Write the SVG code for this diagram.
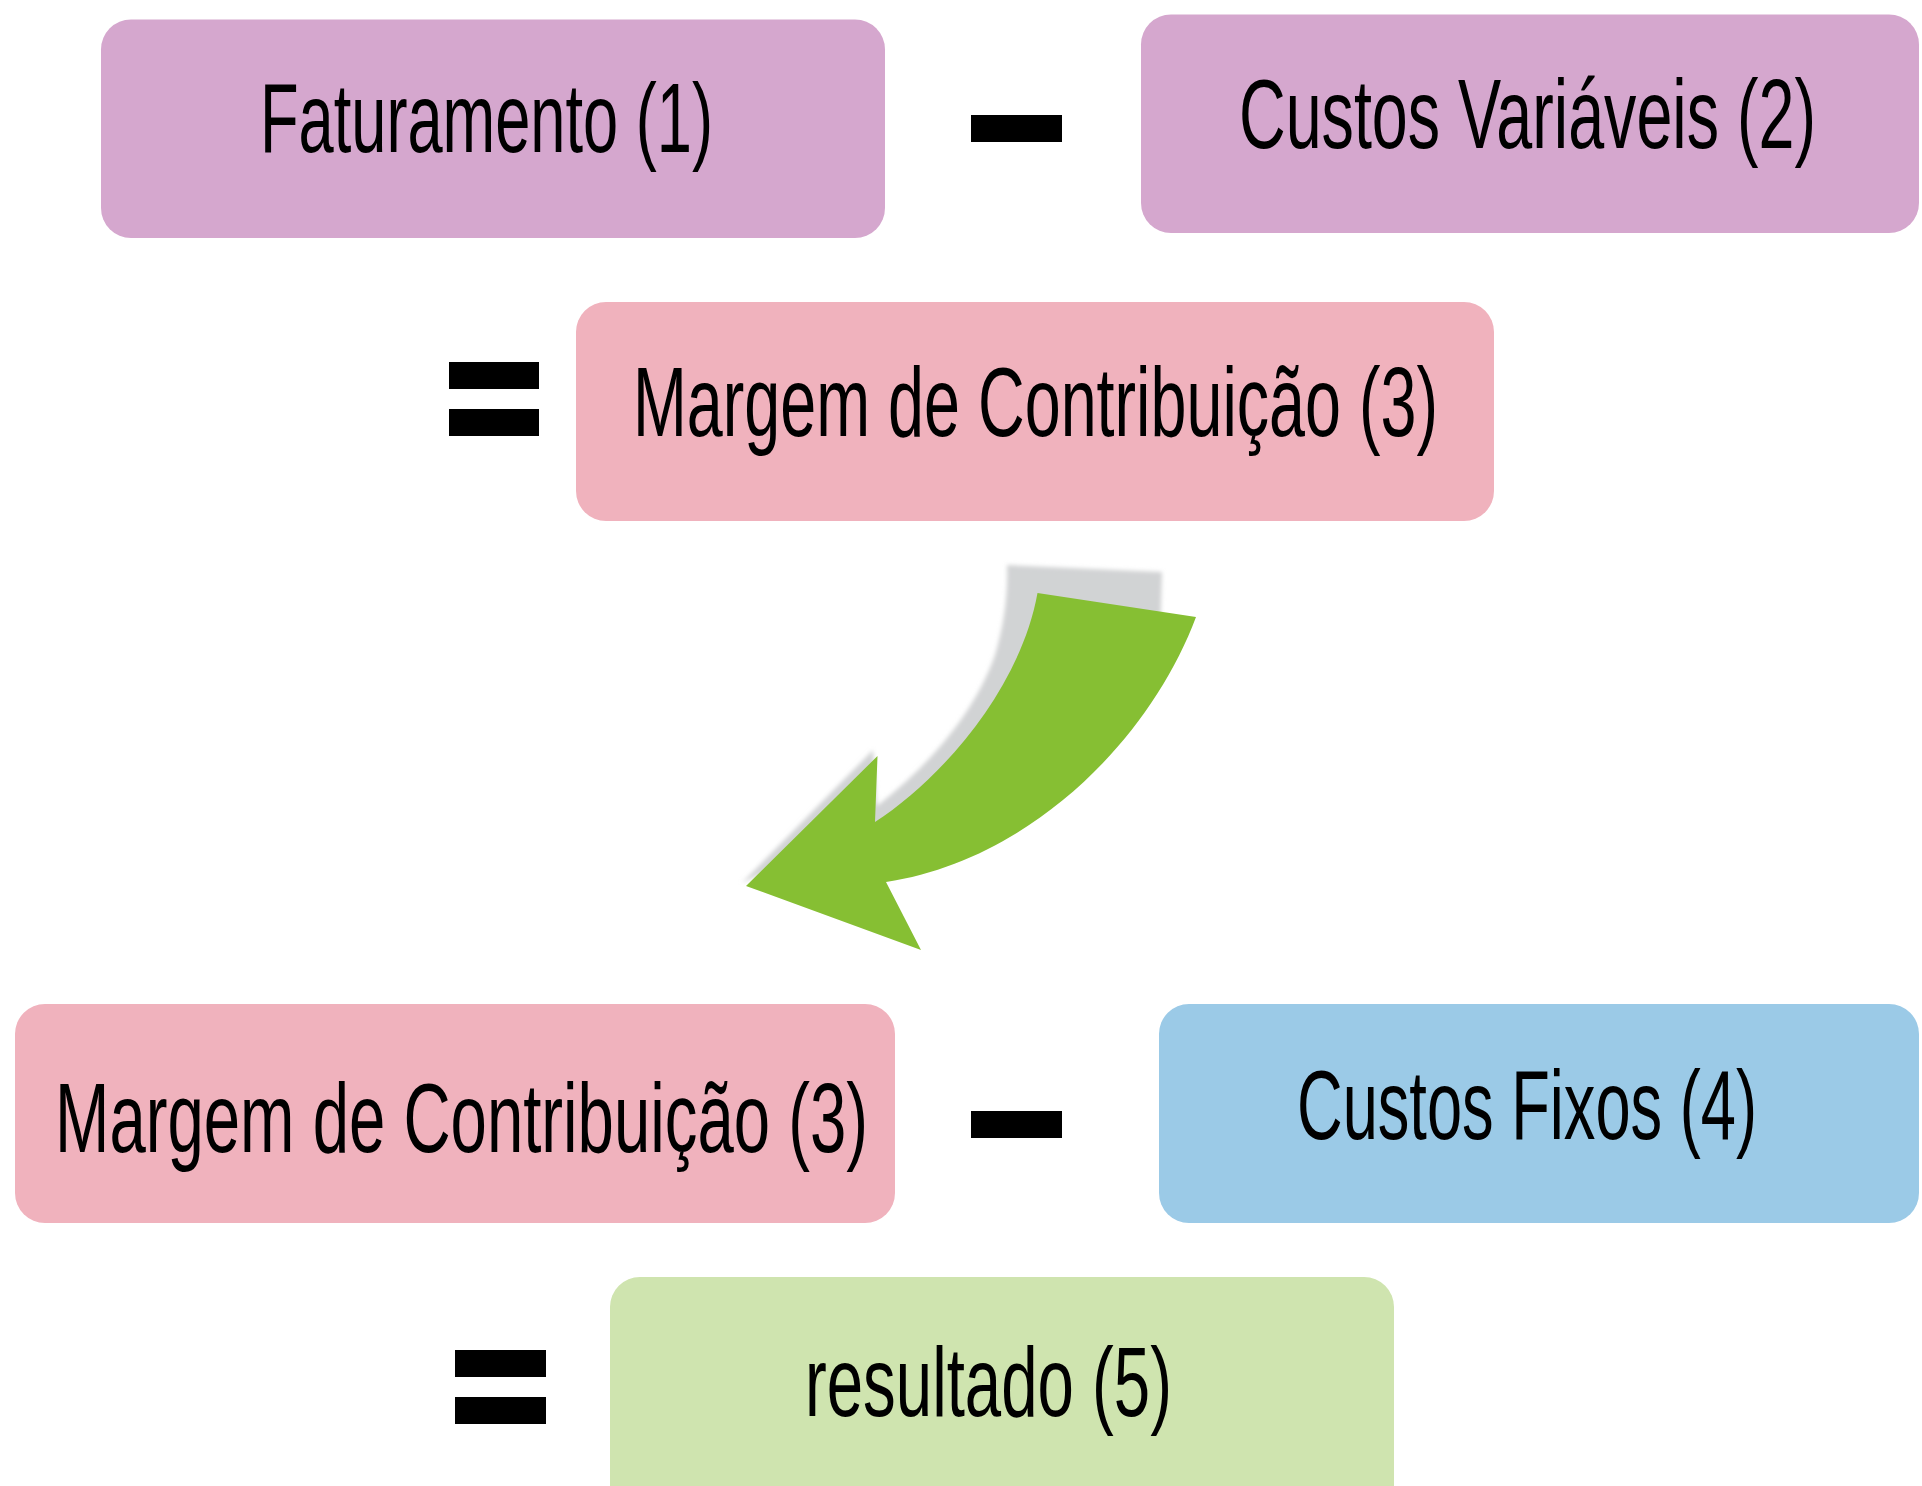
<svg xmlns="http://www.w3.org/2000/svg" width="1922" height="1486" viewBox="0 0 1922 1486">
<style>
.lbl{font-family:"Liberation Sans",Arial,sans-serif;font-size:98px;fill:#000;}
.op{fill:#000;}
</style>
<defs>
<filter id="blur" x="-10%" y="-10%" width="120%" height="120%"><feGaussianBlur stdDeviation="2"/></filter>
</defs>
<rect width="1922" height="1486" fill="#fff"/>
<g id="faturamento">
<rect x="101" y="19.5" width="784" height="218.5" rx="30" fill="#D5A7CE"/>
<text class="lbl" transform="translate(260,152) scale(0.62,1)" x="0" y="0" textLength="730.6" lengthAdjust="spacingAndGlyphs">Faturamento (1)</text>
</g>
<g id="minus1"><rect class="op" x="971" y="115" width="91" height="27"/></g>
<g id="custos-variaveis">
<rect x="1141" y="14.5" width="778" height="218.5" rx="30" fill="#D5A7CE"/>
<text class="lbl" transform="translate(1239,148) scale(0.62,1)" x="0" y="0" textLength="930.6" lengthAdjust="spacingAndGlyphs">Custos Variáveis (2)</text>
</g>
<g id="equals1"><rect class="op" x="449" y="362" width="90" height="27"/><rect class="op" x="449" y="409" width="90" height="27"/></g>
<g id="margem-top">
<rect x="576" y="302" width="918" height="219" rx="30" fill="#F0B2BD"/>
<text class="lbl" transform="translate(633,436) scale(0.62,1)" x="0" y="0" textLength="1298.4" lengthAdjust="spacingAndGlyphs">Margem de Contribuição (3)</text>
</g>
<g id="connectors">
<path d="M1007,565 L1162,572 L1160,640 L960,830 L880,840 L810,850 L742,883 L873,750 L877,806 C930,765 975,712 995,655 C1004,625 1008,595 1007,565 Z" fill="#D1D3D4" filter="url(#blur)"/>
<path d="M1037.5,593 L1196,617 C1150,740 1030,860 886,882 L921,950 L746,886 L877.5,756 L875,822 C940,780 1020,690 1037.5,593 Z" fill="#86BF33"/>
</g>
<g id="margem-bottom">
<rect x="15" y="1004" width="880" height="219" rx="30" fill="#F0B2BD"/>
<text class="lbl" transform="translate(55,1152) scale(0.62,1)" x="0" y="0" textLength="1311.3" lengthAdjust="spacingAndGlyphs">Margem de Contribuição (3)</text>
</g>
<g id="minus2"><rect class="op" x="971" y="1111" width="91" height="27"/></g>
<g id="custos-fixos">
<rect x="1159" y="1004" width="760" height="219" rx="30" fill="#9BCAE7"/>
<text class="lbl" transform="translate(1297,1139) scale(0.62,1)" x="0" y="0" textLength="741.9" lengthAdjust="spacingAndGlyphs">Custos Fixos (4)</text>
</g>
<g id="equals2"><rect class="op" x="455" y="1350" width="91" height="27"/><rect class="op" x="455" y="1397" width="91" height="27"/></g>
<g id="resultado">
<rect x="610" y="1277" width="784" height="240" rx="30" fill="#CFE4AF"/>
<text class="lbl" transform="translate(805,1416) scale(0.62,1)" x="0" y="0" textLength="591.9" lengthAdjust="spacingAndGlyphs">resultado (5)</text>
</g>
</svg>
